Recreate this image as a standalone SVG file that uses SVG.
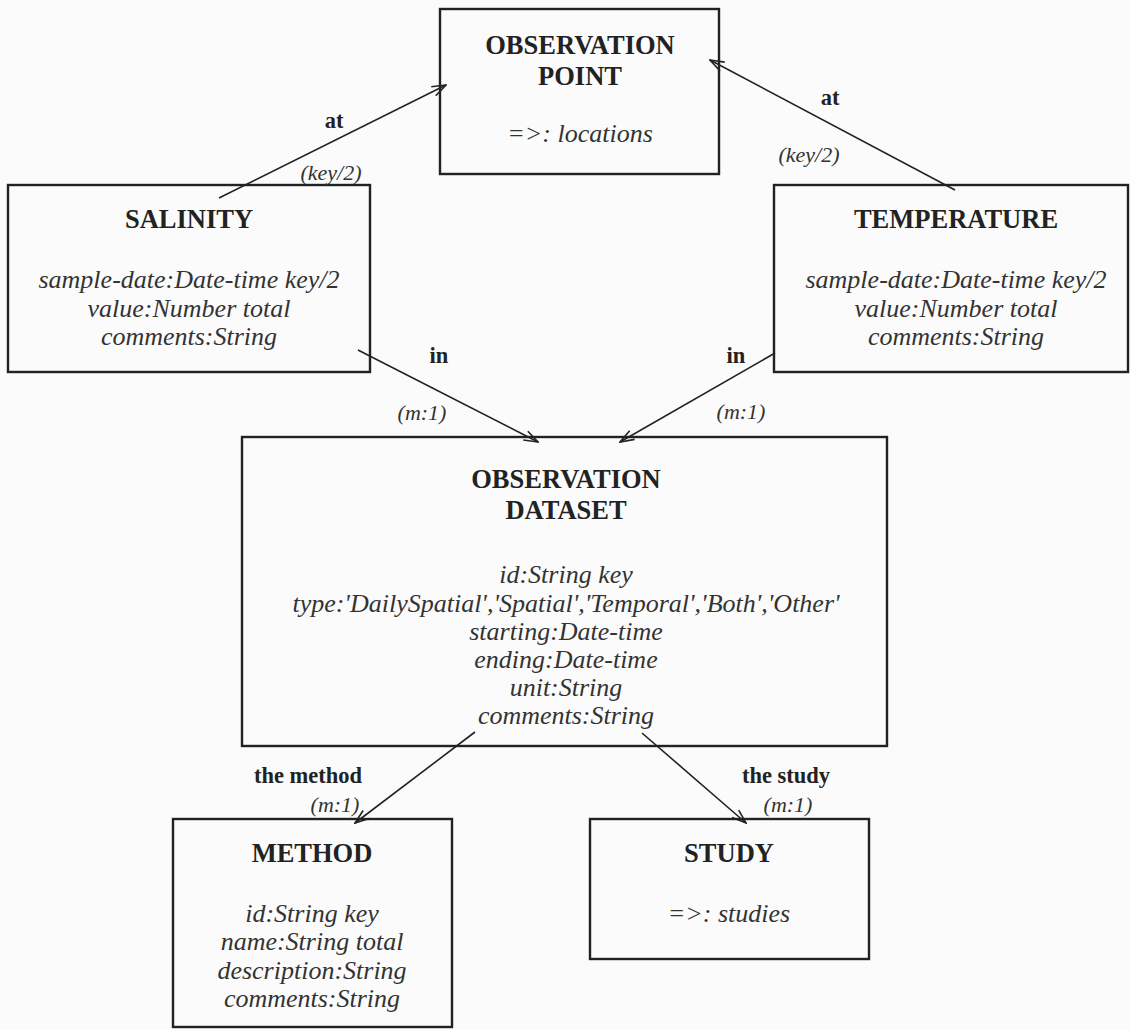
<svg xmlns="http://www.w3.org/2000/svg" width="1130" height="1029" viewBox="0 0 1130 1029">
<defs>
<style>
.box{fill:none;stroke:#222;stroke-width:2.4}
.t{font-family:"Liberation Serif","Times New Roman",serif;font-weight:bold;font-size:26.5px;fill:#222;text-anchor:middle}
.a{font-family:"Liberation Serif","Times New Roman",serif;font-style:italic;font-size:26px;fill:#333;text-anchor:middle}
.lb{font-family:"Liberation Serif","Times New Roman",serif;font-weight:bold;font-size:22.5px;fill:#222;text-anchor:middle}
.lm{font-family:"Liberation Serif","Times New Roman",serif;font-style:italic;font-size:22px;fill:#333;text-anchor:middle}
.c{stroke:#222;stroke-width:1.6;fill:none}
</style>
<marker id="arr" viewBox="0 0 16 12" refX="15" refY="6" markerWidth="16" markerHeight="12" markerUnits="userSpaceOnUse" orient="auto">
<path d="M1,1 L15,6 L1,11" fill="none" stroke="#222" stroke-width="1.6"/>
</marker>
</defs>
<rect width="1130" height="1029" fill="#fbfbfb"/>
<g id="obs-point">
<rect class="box" x="440" y="9" width="279" height="165"/>
<text class="t" x="580" y="54">OBSERVATION</text>
<text class="t" x="580" y="85">POINT</text>
<text class="a" x="580" y="142">=&gt;: locations</text>
</g>
<g id="salinity">
<rect class="box" x="8" y="185" width="362" height="187"/>
<text class="t" x="189" y="228">SALINITY</text>
<text class="a" x="189" y="288">sample-date:Date-time key/2</text>
<text class="a" x="189" y="317">value:Number total</text>
<text class="a" x="189" y="345">comments:String</text>
</g>
<g id="temperature">
<rect class="box" x="774" y="185" width="354" height="187"/>
<text class="t" x="956" y="228">TEMPERATURE</text>
<text class="a" x="956" y="288">sample-date:Date-time key/2</text>
<text class="a" x="956" y="317">value:Number total</text>
<text class="a" x="956" y="345">comments:String</text>
</g>
<g id="obs-dataset">
<rect class="box" x="242" y="437" width="645" height="309"/>
<text class="t" x="566" y="488">OBSERVATION</text>
<text class="t" x="566" y="519">DATASET</text>
<text class="a" x="566" y="583">id:String key</text>
<text class="a" x="566" y="612">type:'DailySpatial','Spatial','Temporal','Both','Other'</text>
<text class="a" x="566" y="640">starting:Date-time</text>
<text class="a" x="566" y="668">ending:Date-time</text>
<text class="a" x="566" y="696">unit:String</text>
<text class="a" x="566" y="724">comments:String</text>
</g>
<g id="method">
<rect class="box" x="173" y="819" width="279" height="208"/>
<text class="t" x="312" y="862">METHOD</text>
<text class="a" x="312" y="922">id:String key</text>
<text class="a" x="312" y="950">name:String total</text>
<text class="a" x="312" y="979">description:String</text>
<text class="a" x="312" y="1007">comments:String</text>
</g>
<g id="study">
<rect class="box" x="590" y="819" width="279" height="140"/>
<text class="t" x="729" y="862">STUDY</text>
<text class="a" x="729" y="922">=&gt;: studies</text>
</g>
<g id="connectors">
<line class="c" x1="219" y1="198" x2="446" y2="85" marker-end="url(#arr)"/>
<line class="c" x1="955" y1="190" x2="710" y2="60" marker-end="url(#arr)"/>
<line class="c" x1="358" y1="350" x2="538" y2="442" marker-end="url(#arr)"/>
<line class="c" x1="775" y1="353" x2="620" y2="442" marker-end="url(#arr)"/>
<line class="c" x1="475" y1="732" x2="355" y2="823" marker-end="url(#arr)"/>
<line class="c" x1="642" y1="733" x2="746" y2="823" marker-end="url(#arr)"/>
<text class="lb" x="334" y="128">at</text>
<text class="lm" x="331" y="180">(key/2)</text>
<text class="lb" x="830" y="105">at</text>
<text class="lm" x="809" y="162">(key/2)</text>
<text class="lb" x="439" y="363">in</text>
<text class="lm" x="422" y="420">(m:1)</text>
<text class="lb" x="736" y="363">in</text>
<text class="lm" x="741" y="419">(m:1)</text>
<text class="lb" x="308" y="783">the method</text>
<text class="lm" x="335" y="812">(m:1)</text>
<text class="lb" x="786" y="783">the study</text>
<text class="lm" x="788" y="812">(m:1)</text>
</g>
</svg>
